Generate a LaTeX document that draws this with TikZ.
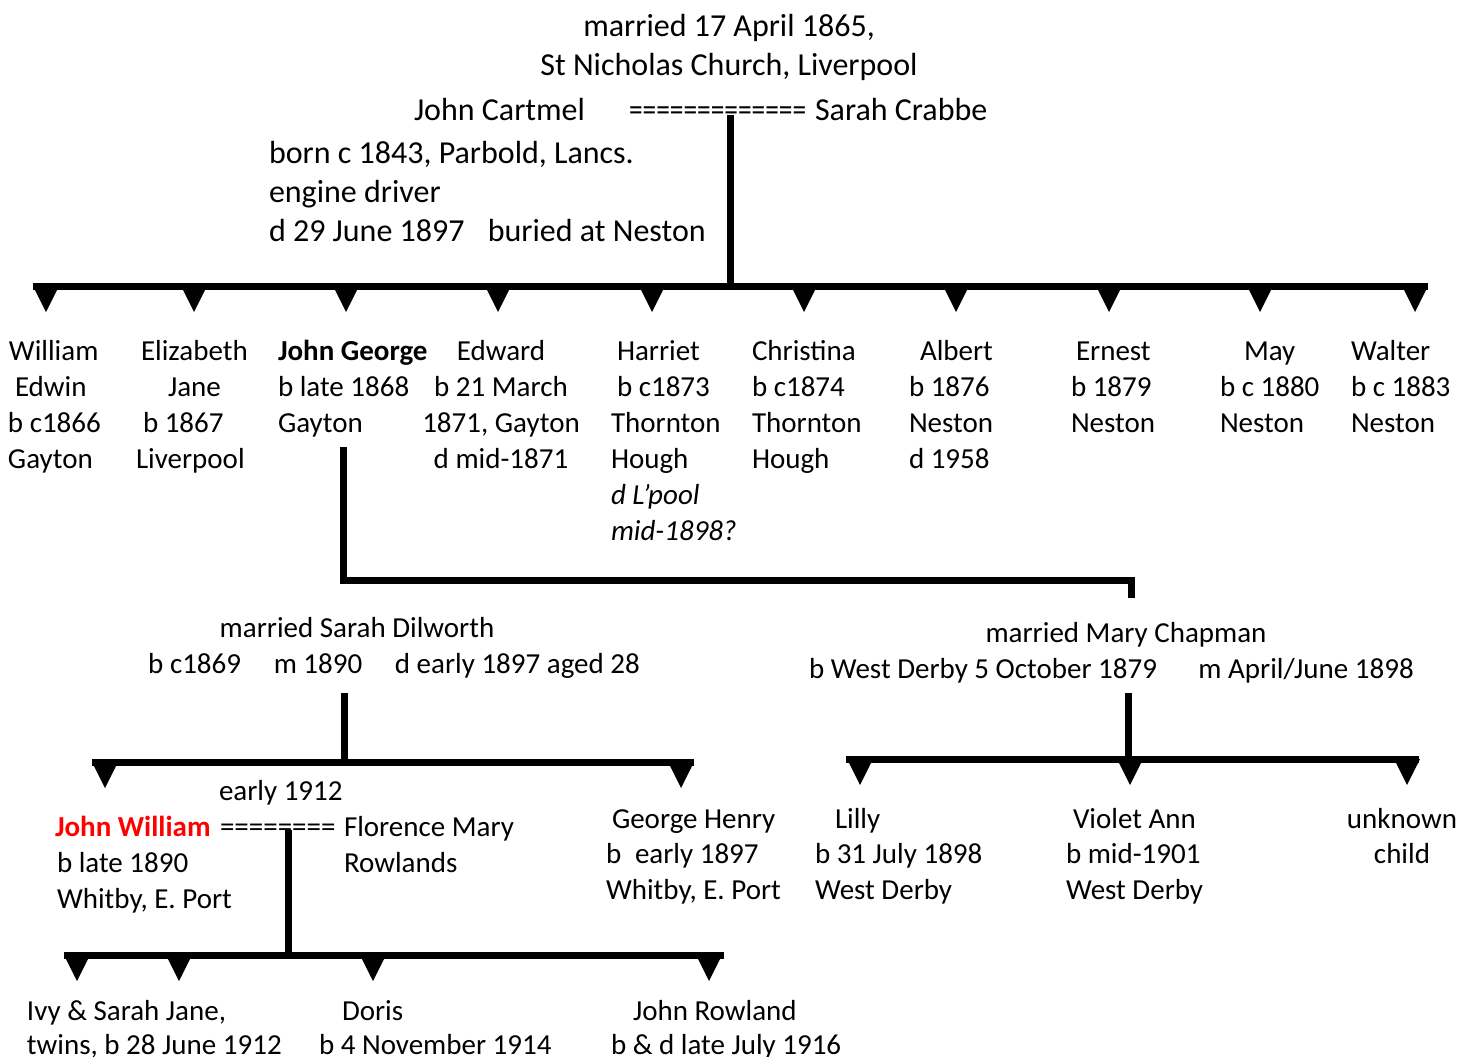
\documentclass[tikz,border=0pt]{standalone}
\usepackage{fontspec}
\setmainfont{Carlito}
\usetikzlibrary{calc}
\tikzset{
  txt/.style={inner sep=0pt, outer sep=0pt, font=\fontsize{29}{36}\selectfont},
  txtt/.style={txt, font=\fontsize{32}{39}\selectfont},
  txtm/.style={txt, font=\fontsize{29}{35.5}\selectfont},
  txtb/.style={txt, font=\fontsize{29}{34}\selectfont},
  bar/.style={line width=7pt},
  tri/.style={fill=black}
}
\newcommand{\downtri}[1]{\fill[tri] (#1) ++(-13,0) -- ++(26,0) -- ++(-13,26) -- cycle;}
\begin{document}
\begin{tikzpicture}[x=1pt,y=-1pt]
\useasboundingbox (0,0) rectangle (1473,1057);
% top (multi-line nodes: base = baseline of last line)
\node[txtt, anchor=base] (m1) at (729,37) {married 17 April 1865,};
\node[txtt, anchor=base] (m2) at (729,76) {St Nicholas Church, Liverpool};
\node[txtt, anchor=base west] (jc) at (414,121) {John Cartmel};
\node[txtt, anchor=base west] (eq1) at (629,121) {\scalebox{0.855}[1]{=============}};
\node[txtt, anchor=base west] (sc) at (815,121) {Sarah Crabbe};
\node[txtt, anchor=base west, align=left] (info) at (269,241) {born c 1843, Parbold, Lancs.\\engine driver\\d 29 June 1897\hspace{0.5em} buried at Neston};
\coordinate (u1) at (730,115);
\coordinate (b1l) at (33,286);
\coordinate (b1r) at (1428,286);
\coordinate (b1m) at (730,286);
\draw[bar] (u1) -- (b1m);
\draw[bar] (b1l) -- (b1r);
\foreach \x in {46,194,346,498,652,804,956,1109,1260,1415}{\downtri{\x,286}}
% children row
\node[txt, anchor=base west, align=left] (c1) at (8,468) {\hspace*{1pt}William\\\hspace*{7pt}Edwin\\b c1866\\Gayton};
\node[txt, anchor=base west, align=left] (c2) at (136,468) {\hspace*{5pt}Elizabeth\\\hspace*{32pt}Jane\\\hspace*{7pt}b 1867\\Liverpool};
\node[txt, anchor=base west, align=left] (c3) at (278,432) {\textbf{John George}\\b late 1868\\Gayton};
\node[txt, anchor=base, align=center] (c4) at (501,468) {Edward\\b 21 March\\1871, Gayton\\d mid-1871};
\node[txt, anchor=base west, align=left] (c5) at (611,540) {\hspace*{6pt}Harriet\\\hspace*{6pt}b c1873\\Thornton\\Hough\\\textit{d L’pool}\\\textit{mid-1898?}};
\node[txt, anchor=base west, align=left] (c6) at (752,468) {Christina\\b c1874\\Thornton\\Hough};
\node[txt, anchor=base west, align=left] (c7) at (909,468) {\hspace*{11pt}Albert\\b 1876\\Neston\\d 1958};
\node[txt, anchor=base west, align=left] (c8) at (1071,432) {\hspace*{5pt}Ernest\\b 1879\\Neston};
\node[txt, anchor=base west, align=left] (c9) at (1220,432) {\hspace*{24pt}May\\b c 1880\\Neston};
\node[txt, anchor=base west, align=left] (c10) at (1351,432) {Walter\\b c 1883\\Neston};
% John George marriages
\coordinate (jg) at (343,447);
\coordinate (jgr) at (1131,598);
\draw[bar] (jg) -- (343,580) -- (1131,580) -- (jgr);
\node[txt, anchor=base] (sd1) at (357,637) {married Sarah Dilworth};
\node[txt, anchor=base] (sd2) at (394,673) {b c1869\hspace{0.9em} m 1890\hspace{0.9em} d early 1897 aged 28};
\node[txt, anchor=base] (mc1) at (1126,642) {married Mary Chapman};
\node[txt, anchor=base west] (mc2) at (809,678) {b West Derby 5 October 1879\hspace{1.2em} m April/June 1898};
% Sarah Dilworth children
\coordinate (s1) at (344,693);
\coordinate (b2l) at (92,762);
\coordinate (b2r) at (694,762);
\coordinate (b2m) at (344,762);
\draw[bar] (s1) -- (b2m);
\draw[bar] (b2l) -- (b2r);
\foreach \x in {105,681}{\downtri{\x,762}}
% Mary Chapman children
\coordinate (s2) at (1128,693);
\coordinate (b3l) at (846,759);
\coordinate (b3r) at (1419,759);
\coordinate (b3m) at (1128,759);
\draw[bar] (s2) -- (b3m);
\draw[bar] (b3l) -- (b3r);
\foreach \x in {860,1130,1407}{\downtri{\x,759}}
% John William
\node[txt, anchor=base west] (e12) at (219,800) {early 1912};
\node[txt, anchor=base west, text=red] (jw) at (55,836) {\textbf{John William}};
\node[txt, anchor=base west] (eq2) at (220,836) {========};
\node[txt, anchor=base west, align=left] (fm) at (344,872) {Florence Mary\\Rowlands};
\node[txt, anchor=base west, align=left] (jwi) at (57,908) {b late 1890\\Whitby, E. Port};
\node[txtm, anchor=base west, align=left] (gh) at (606,899) {\hspace*{6pt}George Henry\\b\hspace{0.25em} early 1897\\Whitby, E. Port};
\node[txtm, anchor=base west, align=left] (li) at (815,899) {\hspace*{20pt}Lilly\\b 31 July 1898\\West Derby};
\node[txtm, anchor=base west, align=left] (va) at (1066,899) {\hspace*{7pt}Violet Ann\\b mid-1901\\West Derby};
\node[txtm, anchor=base, align=center] (uc) at (1402,863.5) {unknown\\child};
\coordinate (u3) at (288,830);
\coordinate (b4l) at (64,955);
\coordinate (b4r) at (724,955);
\coordinate (b4m) at (288,955);
\draw[bar] (u3) -- (b4m);
\draw[bar] (b4l) -- (b4r);
\foreach \x in {77,179,373,709}{\downtri{\x,955}}
\node[txtb, anchor=base west, align=left] (tw) at (27,1054) {Ivy \& Sarah Jane,\\twins, b 28 June 1912};
\node[txtb, anchor=base west, align=left] (do) at (319,1054) {\hspace*{23pt}Doris\\b 4 November 1914};
\node[txtb, anchor=base west, align=left] (jr) at (611,1054) {\hspace*{22pt}John Rowland\\b \& d late July 1916};
\end{tikzpicture}
\end{document}
